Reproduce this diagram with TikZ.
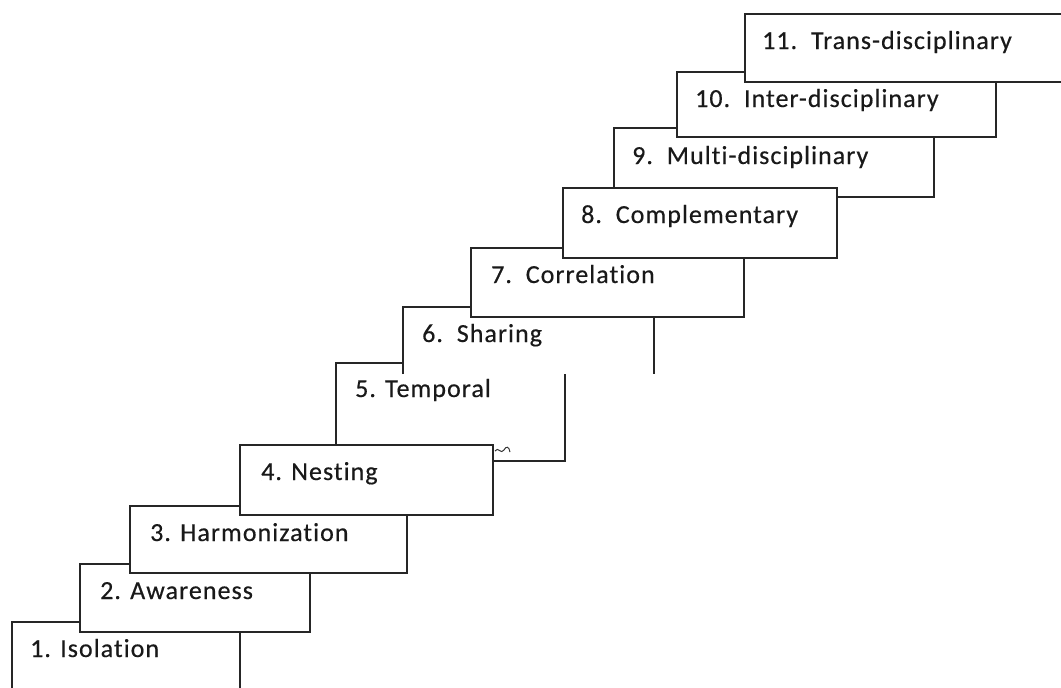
\documentclass[tikz,border=0pt]{standalone}
\usepackage{fontspec}
\setmainfont{Carlito}[LetterSpace=4, Ligatures=NoCommon, FakeBold=0.4]
\begin{document}
\begin{tikzpicture}[x=1pt,y=-1pt,
  stepbox/.style={draw=black!85, line width=1.6pt, fill=white, rectangle,
    inner sep=0pt, outer sep=0pt, anchor=north west},
  lbl/.style={anchor=base west, inner sep=0pt, text=black!90,
    font=\fontsize{26}{30}\selectfont}]
\useasboundingbox (0,0) rectangle (1061,688);
% 1
\node[stepbox, minimum width=228pt, minimum height=68pt] (b1) at (12,622) {};
\node[lbl] (t1) at (30,657) {1. Isolation};
% 2
\node[stepbox, minimum width=230pt, minimum height=68pt] (b2) at (80,564) {};
\node[lbl] (t2) at (100,599) {2. Awareness};
% 3
\node[stepbox, minimum width=277pt, minimum height=67pt] (b3) at (130,506) {};
\node[lbl] (t3) at (150,541) {3. Harmonization};
% 5
\node[stepbox, minimum width=229pt, minimum height=98pt] (b5) at (336,363) {};
\node[lbl] (t5) at (355,397) {5. Temporal};
% 4
\node[stepbox, minimum width=253pt, minimum height=70pt] (b4) at (240,445) {};
\node[lbl] (t4) at (261,480) {4. Nesting};
% squiggle remnant
\draw[black!80, line width=1pt] (495,451) .. controls (498,446) and (501,455) .. (504,450) .. controls (506,446) and (509,446) .. (510,452);
% 6 (bottom edge not shown)
\node[stepbox, draw=none, minimum width=251pt, minimum height=67pt] (b6) at (403,307) {};
\draw[black!85, line width=1.6pt] (b6.south west) -- (b6.north west) -- (b6.north east) -- (b6.south east);
\node[lbl] (t6) at (422,342) {6.\ \ Sharing};
% 7
\node[stepbox, minimum width=273pt, minimum height=69pt] (b7) at (471,248) {};
\node[lbl] (t7) at (491,283) {7.\ \ Correlation};
% 9
\node[stepbox, minimum width=320pt, minimum height=69pt] (b9) at (614,128) {};
\node[lbl] (t9) at (632,164) {9.\ \ Multi-disciplinary};
% 8
\node[stepbox, minimum width=274pt, minimum height=70pt] (b8) at (563,188) {};
\node[lbl] (t8) at (581,223) {8.\ \ Complementary};
% 10
\node[stepbox, minimum width=319pt, minimum height=65pt] (b10) at (677,72) {};
\node[lbl] (t10) at (695,107) {10.\ \ Inter-disciplinary};
% 11
\node[stepbox, minimum width=330pt, minimum height=68pt] (b11) at (745,14) {};
\node[lbl] (t11) at (762,49) {11.\ \ Trans-disciplinary};
\end{tikzpicture}
\end{document}
